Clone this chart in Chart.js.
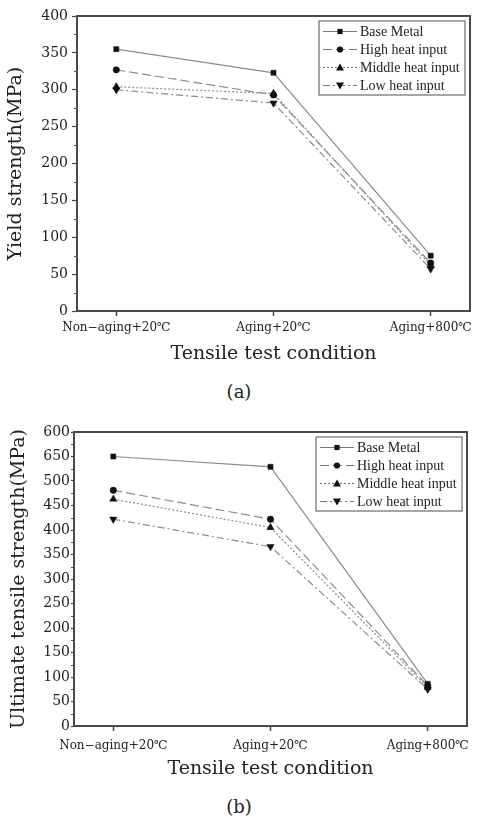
<!DOCTYPE html>
<html><head><meta charset="utf-8">
<script src="https://cdn.jsdelivr.net/npm/chart.js@4/dist/chart.umd.min.js"></script>
<style>
html,body{margin:0;padding:0;background:#fff;width:478px;height:818px;overflow:hidden}
.c{position:absolute;left:0}
.cap{position:absolute;left:0;width:478px;text-align:center;font-family:"DejaVu Serif",serif;font-size:18px;line-height:22px;color:#222}
</style></head><body>
<canvas id="ca" class="c" style="top:0" width="478" height="370"></canvas>
<div class="cap" style="top:381px">(a)</div>
<canvas id="cb" class="c" style="top:410px" width="478" height="370"></canvas>
<div class="cap" style="top:796px">(b)</div>
<script>
const categories = ['Non\u2212aging+20\u2103', 'Aging+20\u2103', 'Aging+800\u2103'];
const seriesNames = ['Base Metal', 'High heat input', 'Middle heat input', 'Low heat input'];
const yieldBase   = [355, 323, 75];
const yieldHigh   = [327, 293, 65];
const yieldMiddle = [304, 295, 62];
const yieldLow    = [300, 282, 57];
const utsBase   = [550, 529, 86];
const utsHigh   = [481, 422, 82];
const utsMiddle = [463, 405, 79];
const utsLow    = [422, 366, 75];
const yieldTickLabels = ['0','50','100','150','200','250','300','350','400'];
const utsTickLabels = ['0','50','100','150','200','250','300','350','400','450','500','650','600'];

const styles = [
  {dash: [], point: 'rect', radius: 3.6, rot: 0},
  {dash: [9, 4], point: 'circle', radius: 3.2, rot: 0},
  {dash: [2, 2], point: 'triangle', radius: 4.2, rot: 0},
  {dash: [7, 3, 2, 3], point: 'triangle', radius: 4.2, rot: 180}
];

function drawMarker(ctx, kind, rot, x, y) {
  ctx.fillStyle = '#111';
  ctx.beginPath();
  if (kind === 'rect') { ctx.rect(x - 2.6, y - 2.6, 5.2, 5.2); }
  else if (kind === 'circle') { ctx.arc(x, y, 3.1, 0, Math.PI * 2); }
  else if (rot === 0) { ctx.moveTo(x, y - 4); ctx.lineTo(x + 4, y + 3); ctx.lineTo(x - 4, y + 3); ctx.closePath(); }
  else { ctx.moveTo(x, y + 4); ctx.lineTo(x + 4, y - 3); ctx.lineTo(x - 4, y - 3); ctx.closePath(); }
  ctx.fill();
}

const framePlugin = {
  id: 'frame',
  afterDraw(chart) {
    const {ctx, chartArea: a} = chart;
    const ys = chart.scales.y;
    ctx.save();
    ctx.setLineDash([]);
    ctx.strokeStyle = '#555'; ctx.lineWidth = 1;
    for (let v = 25; v < ys.max; v += 50) {
      const p = Math.round(ys.getPixelForValue(v)) + 0.5;
      ctx.beginPath(); ctx.moveTo(a.left - 3, p); ctx.lineTo(a.left, p); ctx.stroke();
    }
    ctx.lineWidth = 2; ctx.strokeStyle = '#4a4a4a';
    ctx.strokeRect(a.left, a.top, a.right - a.left, a.bottom - a.top);
    // legend
    const bw = 146, bh = 74;
    const bx = a.right - 5 - bw, by = a.top + 5;
    ctx.fillStyle = '#fff';
    ctx.fillRect(bx, by, bw, bh);
    ctx.lineWidth = 1.3; ctx.strokeStyle = '#777';
    ctx.strokeRect(bx, by, bw, bh);
    ctx.font = '14px "Liberation Serif", serif';
    ctx.textBaseline = 'middle';
    chart.data.datasets.forEach((ds, i) => {
      const st = styles[i];
      const y = by + 10.5 + i * 18;
      ctx.strokeStyle = '#777'; ctx.lineWidth = 1.1;
      ctx.setLineDash(st.dash);
      ctx.beginPath(); ctx.moveTo(bx + 4, y); ctx.lineTo(bx + 38, y); ctx.stroke();
      ctx.setLineDash([]);
      drawMarker(ctx, st.point, st.rot, bx + 21, y);
      ctx.fillStyle = '#222';
      ctx.fillText(ds.label, bx + 41, y + 1);
    });
    ctx.restore();
  }
};

function makeChart(id, series, tickLabels, yMax, opt) {
  const datasets = series.map((vals, i) => ({
    label: seriesNames[i],
    data: vals.map((v, k) => ({x: k, y: v})),
    borderColor: '#8c8c8c',
    borderWidth: 1.2,
    borderDash: styles[i].dash,
    pointStyle: styles[i].point,
    pointRotation: styles[i].rot,
    pointRadius: styles[i].radius,
    pointBackgroundColor: '#111',
    pointBorderColor: '#111',
    pointBorderWidth: 0.5,
    tension: 0,
    fill: false
  }));
  return new Chart(document.getElementById(id), {
    type: 'line',
    data: {datasets},
    options: {
      responsive: false,
      animation: false,
      events: [],
      layout: {padding: opt.padding},
      plugins: {legend: {display: false}, tooltip: {enabled: false}},
      scales: {
        x: {
          type: 'linear', min: -0.25, max: 2.25,
          afterBuildTicks: s => { s.ticks = categories.map((c, i) => ({value: i})); },
          afterFit: s => { s.height = 54; },
          border: {display: false},
          grid: {drawOnChartArea: false, drawTicks: true, tickLength: 5, color: '#444', tickWidth: 1.5},
          ticks: {
            autoSkip: false, maxRotation: 0, padding: opt.xPad, color: '#222',
            font: {family: '"DejaVu Serif", serif', size: 12},
            callback: v => categories[v]
          },
          title: {display: true, text: 'Tensile test condition', color: '#222', padding: {top: 0, bottom: 0},
            font: {family: '"DejaVu Serif", serif', size: 19}}
        },
        y: {
          min: 0, max: yMax,
          afterFit: s => { s.width = opt.yWidth; },
          border: {display: false},
          grid: {drawOnChartArea: false, drawTicks: true, tickLength: opt.yTick, color: '#444', tickWidth: 1.2},
          ticks: {
            stepSize: 50, padding: opt.yPad, color: '#222',
            font: {family: '"DejaVu Serif", serif', size: 14},
            callback: v => tickLabels[Math.round(v / 50)]
          },
          title: {display: true, text: opt.yTitle, color: '#222', padding: {top: opt.yTitlePad, bottom: 0},
            font: {family: '"DejaVu Serif", serif', size: 19}}
        }
      }
    },
    plugins: [framePlugin]
  });
}

makeChart('ca', [yieldBase, yieldHigh, yieldMiddle, yieldLow], yieldTickLabels, 400, {
  padding: {top: 16, right: 8, left: 0, bottom: 5},
  yWidth: 77, yTick: 5, yPad: 4, xPad: 5, yTitlePad: 5,
  yTitle: 'Yield strength(MPa)'
});
makeChart('cb', [utsBase, utsHigh, utsMiddle, utsLow], utsTickLabels, 600, {
  padding: {top: 22, right: 11, left: 0, bottom: 0},
  yWidth: 74, yTick: 3, yPad: 1, xPad: 8, yTitlePad: 8,
  yTitle: 'Ultimate tensile strength(MPa)'
});
</script>
</body></html>
